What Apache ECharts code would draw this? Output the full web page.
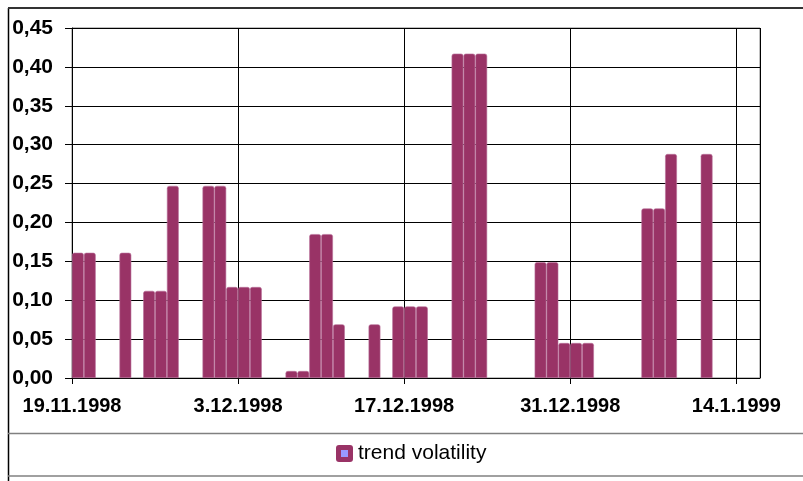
<!DOCTYPE html>
<html>
<head>
<meta charset="utf-8">
<script src="https://cdn.jsdelivr.net/npm/echarts@6/dist/echarts.min.js"></script>
<style>
  html, body { margin: 0; padding: 0; background: #fff; }
  #main { width: 803px; height: 481px; }
</style>
</head>
<body>
<div id="main"></div>
<script>
// data
var seriesName = 'trend volatility';
var axisStart = '19.11.1998';
var axisEnd = '16.1.1999';
var dates = ['19.11.1998', '20.11.1998', '23.11.1998', '25.11.1998', '26.11.1998', '27.11.1998',
  '30.11.1998', '1.12.1998', '2.12.1998', '3.12.1998', '4.12.1998', '7.12.1998', '8.12.1998',
  '9.12.1998', '10.12.1998', '11.12.1998', '14.12.1998', '16.12.1998', '17.12.1998', '18.12.1998',
  '21.12.1998', '22.12.1998', '23.12.1998', '28.12.1998', '29.12.1998', '30.12.1998', '31.12.1998',
  '1.1.1999', '6.1.1999', '7.1.1999', '8.1.1999', '11.1.1999'];
var values = [0.161, 0.161, 0.161, 0.112, 0.112, 0.247, 0.247, 0.247, 0.117, 0.117, 0.117,
  0.009, 0.009, 0.185, 0.185, 0.069, 0.069, 0.092, 0.092, 0.092, 0.417, 0.417, 0.417,
  0.149, 0.149, 0.045, 0.045, 0.045, 0.218, 0.218, 0.288, 0.288];
var yTicks = [0, 0.05, 0.10, 0.15, 0.20, 0.25, 0.30, 0.35, 0.40, 0.45];
var xTickDays = 14;

var DAY = 86400000;
function parseDate(s) {
  var p = s.split('.');
  return Date.UTC(+p[2], +p[1] - 1, +p[0]);
}
function dayOffset(s) {
  return Math.round((parseDate(s) - parseDate(axisStart)) / DAY);
}
function fmtDate(off) {
  var d = new Date(parseDate(axisStart) + off * DAY);
  return d.getUTCDate() + '.' + (d.getUTCMonth() + 1) + '.' + d.getUTCFullYear();
}

// each bar fills its day slot, like Excel's date axis
var barData = dates.map(function (d, i) {
  return [dayOffset(d) + 0.5, values[i]];
});

var legendIcon = 'image://data:image/svg+xml;utf8,' + encodeURIComponent(
  '<svg xmlns="http://www.w3.org/2000/svg" width="17" height="17">' +
  '<rect x="0" y="0" width="17" height="17" rx="3" fill="#993366"/>' +
  '<rect x="5" y="5" width="7" height="7" fill="#9999ff"/></svg>');

var font = '"Liberation Sans", Arial, sans-serif';
var chart = echarts.init(document.getElementById('main'));
var option = {
  backgroundColor: '#fff',
  animation: false,
  textStyle: { fontFamily: font },
  grid: {
    left: 72, right: 43, top: 28, bottom: 103,
    show: true, borderColor: '#808080', borderWidth: 1
  },
  legend: {
    data: [{ name: seriesName, icon: legendIcon }],
    left: 336, top: 443,
    padding: 0,
    itemWidth: 17, itemHeight: 17,
    textStyle: { fontSize: 21, color: '#000', fontFamily: font }
  },
  xAxis: {
    type: 'value',
    min: 0,
    max: dayOffset(axisEnd),
    interval: xTickDays,
    axisLine: { show: true, lineStyle: { color: '#000', width: 1 } },
    axisTick: { show: true, length: 6, lineStyle: { color: '#000' } },
    splitLine: { show: true, lineStyle: { color: '#000', width: 1 } },
    axisLabel: {
      showMaxLabel: false,
      margin: 18,
      fontSize: 20, fontWeight: 'bold', color: '#000', fontFamily: font,
      formatter: function (v) {
        return v % xTickDays === 0 ? fmtDate(v) : '';
      }
    }
  },
  yAxis: {
    type: 'value',
    min: yTicks[0],
    max: yTicks[yTicks.length - 1],
    interval: 0.05,
    axisLine: { show: true, lineStyle: { color: '#000', width: 1 } },
    axisTick: { show: true, length: 7, lineStyle: { color: '#000' } },
    splitLine: { show: true, lineStyle: { color: '#000', width: 1 } },
    axisLabel: {
      margin: 19,
      fontSize: 21, fontWeight: 'bold', color: '#000', fontFamily: font,
      formatter: function (v) { return v.toFixed(2).replace('.', ','); }
    }
  },
  series: [{
    name: seriesName,
    type: 'bar',
    barWidth: 11.8,
    itemStyle: {
      color: '#993366',
      borderColor: '#b9719a',
      borderWidth: 0.6,
      borderRadius: [2, 2, 0, 0]
    },
    data: barData
  }],
  graphic: [
    { type: 'line', shape: { x1: 8.5, y1: 8, x2: 8.5, y2: 481 }, style: { stroke: '#000', lineWidth: 1.5 } },
    { type: 'line', shape: { x1: 8, y1: 8, x2: 803, y2: 8 }, style: { stroke: '#333', lineWidth: 2 } },
    { type: 'line', shape: { x1: 8, y1: 433.5, x2: 803, y2: 433.5 }, style: { stroke: '#808080', lineWidth: 1.5 } },
    { type: 'line', shape: { x1: 8, y1: 476, x2: 803, y2: 476 }, style: { stroke: '#808080', lineWidth: 1.5 } }
  ]
};
chart.setOption(option);
</script>
</body>
</html>
